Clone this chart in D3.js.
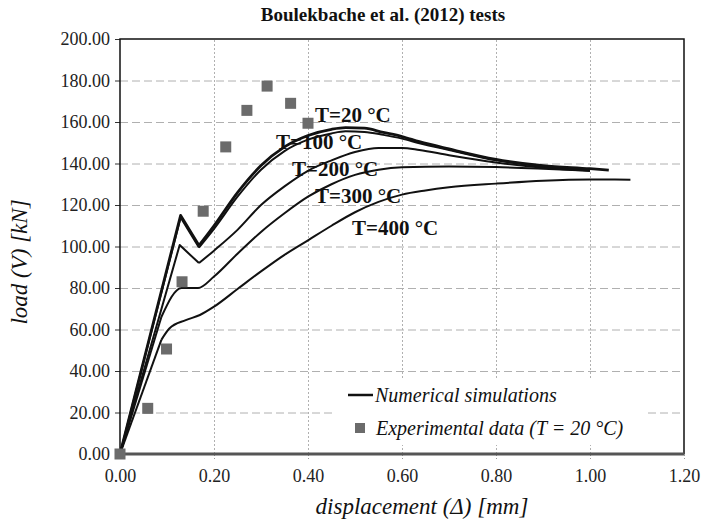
<!DOCTYPE html>
<html>
<head>
<meta charset="utf-8">
<script src="https://cdn.jsdelivr.net/npm/d3@7"></script>
<style>
	body { margin: 0; background: #fff; }
</style>
</head>
<body>
<div id="chart"></div>
<script>

// tick labels
var xTicks = [0, 0.2, 0.4, 0.6, 0.8, 1.0, 1.2];
var yTicks = [0, 20, 40, 60, 80, 100, 120, 140, 160, 180, 200];

// experimental data (T = 20 °C)
var expX = [0, 0.059, 0.099, 0.132, 0.177, 0.225, 0.270, 0.313, 0.363, 0.400];
var expY = [0, 22, 50.6, 83, 117, 148, 165.6, 177.3, 169, 159.4];

// numerical simulations, one displacement / load pair per temperature
var t20X = [0, 0.129, 0.168, 0.20, 0.25, 0.30, 0.35, 0.40, 0.45, 0.48, 0.52, 0.56, 0.60, 0.637, 0.70, 0.80, 0.90, 1.00, 1.04];
var t20Y = [0, 115, 100.5, 110, 126, 139, 148, 153.5, 156.5, 157.3, 157, 155, 153, 150.5, 147, 142, 139, 137.5, 136.8];

var t100X = [0, 0.129, 0.168, 0.20, 0.25, 0.30, 0.35, 0.40, 0.45, 0.48, 0.52, 0.56, 0.60, 0.637, 0.70, 0.80, 0.90, 1.00];
var t100Y = [0, 114, 99.5, 108.5, 124, 137, 146, 151.5, 154.5, 155.5, 155.2, 153.8, 152, 149.8, 146.5, 141.5, 138.5, 136.5];

var t200X = [0, 0.127, 0.168, 0.20, 0.25, 0.30, 0.35, 0.40, 0.45, 0.50, 0.55, 0.60, 0.637, 0.70, 0.80, 0.90, 1.00];
var t200Y = [0, 100.7, 92, 98, 108, 120, 129, 136.5, 141.5, 145.5, 147.5, 147.5, 146.5, 144, 140.5, 138, 136.6];

var t300X = [0, 0.088, 0.131, 0.166, 0.20, 0.25, 0.30, 0.35, 0.40, 0.45, 0.50, 0.55, 0.60, 0.70, 0.80, 0.90, 1.00];
var t300Y = [0, 66, 80, 80, 85.5, 96.5, 107, 116, 124, 130, 134.5, 137, 138.2, 138.6, 138.3, 137.5, 136.5];

var t400X = [0, 0.088, 0.105, 0.14, 0.17, 0.20, 0.25, 0.30, 0.35, 0.40, 0.45, 0.50, 0.55, 0.60, 0.65, 0.70, 0.80, 0.90, 1.00, 1.086];
var t400Y = [0, 55, 60.5, 64.5, 67, 71, 79.5, 88, 96, 103, 110, 116.5, 121.5, 125, 127, 128.5, 130.3, 131.7, 132.3, 132.2];

var seriesNames = ["T=20 °C", "T=100 °C", "T=200 °C", "T=300 °C", "T=400 °C"];

function init(){

	var w = 701;
	var h = 523;
	var font = "Liberation Serif";

	//plot area
	var left = 120, right = 684, top = 39, bottom = 454;

	var xScale = d3.scaleLinear().domain([0, 1.2]).range([left, right]);
	var yScale = d3.scaleLinear().domain([0, 200]).range([bottom, top]);

	var svg = d3.select("#chart")
				.append("svg")
				.attr("width", w)
				.attr("height", h)
				.attr("font-family", font);

	//horizontal grid (dashed)
	svg.append("g")
		.attr("transform", "translate(" + left + ",0)")
		.call(d3.axisLeft(yScale).tickValues(yTicks.slice(1, -1)).tickSize(-(right - left)).tickFormat(""))
		.call(function(g){ g.select(".domain").remove(); })
		.selectAll("line")
		.attr("stroke", "#b0b0b0")
		.attr("stroke-dasharray", "8,4");

	//vertical grid (dotted)
	svg.append("g")
		.attr("transform", "translate(0," + bottom + ")")
		.call(d3.axisBottom(xScale).tickValues(xTicks.slice(1, -1)).tickSize(-(bottom - top)).tickFormat(""))
		.call(function(g){ g.select(".domain").remove(); })
		.selectAll("line")
		.attr("stroke", "#b0b0b0")
		.attr("stroke-dasharray", "2,2");

	//legend box hides the grid behind it
	svg.append("rect")
		.attr("x", 336)
		.attr("y", 379)
		.attr("width", 311)
		.attr("height", 66)
		.attr("fill", "#fff");

	//y axis
	var yAxis = svg.append("g")
		.attr("transform", "translate(" + left + ",0)")
		.call(d3.axisLeft(yScale).tickValues(yTicks).tickSize(5).tickPadding(5).tickFormat(d3.format(".2f")));
	yAxis.attr("font-family", font);
	yAxis.select(".domain").remove();
	yAxis.selectAll("line").attr("stroke", "#333");
	yAxis.selectAll("text")
		.attr("font-size", 18)
		.attr("fill", "#222");

	//x axis labels
	var xAxis = svg.append("g")
		.attr("transform", "translate(0," + bottom + ")")
		.call(d3.axisBottom(xScale).tickValues(xTicks).tickSize(5).tickPadding(10).tickFormat(d3.format(".2f")));
	xAxis.attr("font-family", font);
	xAxis.select(".domain").remove();
	xAxis.selectAll("line").attr("stroke", "#999").attr("stroke-dasharray", "2,2");
	xAxis.selectAll("text")
		.attr("font-size", 18)
		.attr("fill", "#222");

	//frame
	svg.append("path")
		.attr("d", "M" + left + "," + bottom + "V" + top + "H" + right + "V" + bottom)
		.attr("fill", "none")
		.attr("stroke", "#111")
		.attr("stroke-width", 1.5);
	svg.append("line")
		.attr("x1", left)
		.attr("x2", right)
		.attr("y1", bottom)
		.attr("y2", bottom)
		.attr("stroke", "#555")
		.attr("stroke-width", 3);

	//curves: straight up to the first drop, smooth after it
	var straight = d3.line()
				.x(function(d){ return xScale(d[0]); })
				.y(function(d){ return yScale(d[1]); });
	var smooth = d3.line()
				.x(function(d){ return xScale(d[0]); })
				.y(function(d){ return yScale(d[1]); })
				.curve(d3.curveMonotoneX);

	var curves = [
		{ x: t400X, y: t400Y, width: 2, cut: 1 },
		{ x: t300X, y: t300Y, width: 2, cut: 1 },
		{ x: t200X, y: t200Y, width: 2, cut: 2 },
		{ x: t100X, y: t100Y, width: 2, cut: 2 },
		{ x: t20X, y: t20Y, width: 2.8, cut: 2 }
	];

	var sims = svg.selectAll("g.sim")
		.data(curves)
		.enter()
		.append("g")
		.attr("class", "sim")
		.attr("fill", "none")
		.attr("stroke", "#111")
		.attr("stroke-linejoin", "round")
		.attr("stroke-width", function(d){ return d.width; });

	sims.append("path")
		.attr("d", function(d){
			var pts = d.x.map(function(v, i){ return [v, d.y[i]]; });
			return straight(pts.slice(0, d.cut + 1));
		});
	sims.append("path")
		.attr("d", function(d){
			var pts = d.x.map(function(v, i){ return [v, d.y[i]]; });
			return smooth(pts.slice(d.cut));
		});

	//experimental points
	svg.selectAll("rect.exp")
		.data(expX)
		.enter()
		.append("rect")
		.attr("class", "exp")
		.attr("x", function(d){ return xScale(d) - 5.5; })
		.attr("y", function(d, i){ return yScale(expY[i]) - 5.5; })
		.attr("width", 11)
		.attr("height", 11)
		.attr("fill", "#6b6b6b");

	//temperature labels
	var labelPos = [[315, 122], [276, 149], [292, 176], [315, 203], [352, 235]];
	svg.selectAll("text.temp")
		.data(seriesNames)
		.enter()
		.append("text")
		.attr("class", "temp")
		.attr("x", function(d, i){ return labelPos[i][0]; })
		.attr("y", function(d, i){ return labelPos[i][1]; })
		.attr("font-size", 21)
		.attr("font-weight", "bold")
		.attr("fill", "#111")
		.text(function(d){ return d; });

	//legend
	svg.append("line")
		.attr("x1", 348)
		.attr("x2", 373)
		.attr("y1", 395)
		.attr("y2", 395)
		.attr("stroke", "#111")
		.attr("stroke-width", 2.5);
	svg.append("text")
		.attr("x", 375)
		.attr("y", 402)
		.attr("font-size", 20)
		.attr("font-style", "italic")
		.attr("fill", "#111")
		.text("Numerical simulations");
	svg.append("rect")
		.attr("x", 355)
		.attr("y", 423)
		.attr("width", 10)
		.attr("height", 10)
		.attr("fill", "#6b6b6b");
	svg.append("text")
		.attr("x", 376)
		.attr("y", 435)
		.attr("font-size", 20)
		.attr("font-style", "italic")
		.attr("fill", "#111")
		.text("Experimental data (T = 20 °C)");

	//titles
	svg.append("text")
		.attr("x", 383)
		.attr("y", 21)
		.attr("text-anchor", "middle")
		.attr("font-size", 19)
		.attr("font-weight", "bold")
		.attr("fill", "#111")
		.text("Boulekbache et al. (2012) tests");

	svg.append("text")
		.attr("x", 422)
		.attr("y", 514)
		.attr("text-anchor", "middle")
		.attr("font-size", 23)
		.attr("font-style", "italic")
		.attr("fill", "#111")
		.text("displacement (Δ) [mm]");

	svg.append("text")
		.attr("transform", "translate(27,262) rotate(-90)")
		.attr("text-anchor", "middle")
		.attr("font-size", 23)
		.attr("font-style", "italic")
		.attr("fill", "#111")
		.text("load (V) [kN]");
}

window.onload = init;
</script>
</body>
</html>
